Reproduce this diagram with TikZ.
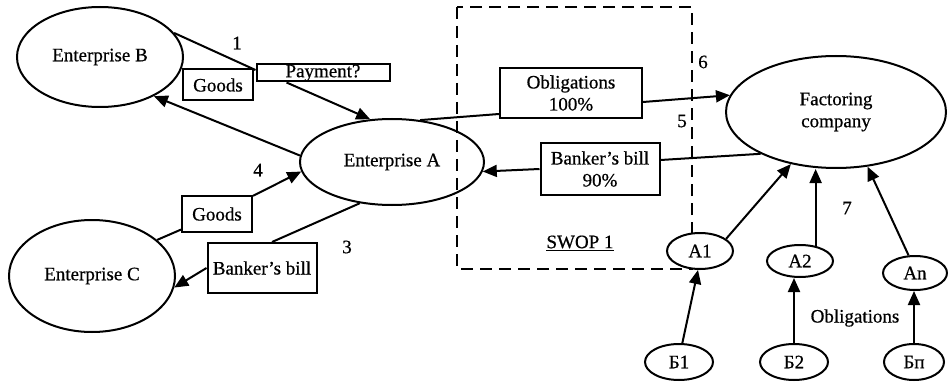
\documentclass[tikz,border=0pt]{standalone}
\usepackage{fontspec}
\setmainfont{Liberation Serif}[FakeBold=0.6]
\usetikzlibrary{shapes.geometric,arrows.meta,calc}
\begin{document}
\begin{tikzpicture}[x=1pt,y=-1pt,
  every node/.style={font=\fontsize{19}{22}\selectfont},
  ell/.style={draw,ellipse,line width=2pt,inner sep=0pt},
  box/.style={draw,rectangle,line width=2pt,fill=white,inner sep=0pt,align=center},
  conn/.style={line width=2pt},
  arr/.style={line width=2pt,-{Triangle[length=14pt,width=12pt]}},
  lbl/.style={inner sep=0pt},
  swop/.style={line width=2pt,dash pattern=on 12pt off 7pt}]
\useasboundingbox (0,0) rectangle (948,385);
% SWOP frame
\draw[swop] (457,7) rectangle (692,269);
% big ellipses
\node[ell,minimum width=166pt,minimum height=100pt] (B) at (100,57) {Enterprise B};
\node[ell,minimum width=184pt,minimum height=86pt] (A) at (392,162) {Enterprise A};
\node[ell,minimum width=166pt,minimum height=112pt] (C) at (92,276) {Enterprise C};
\node[ell,minimum width=220pt,minimum height=112pt,align=center] (F) at (836,112) {Factoring\\company};
% small ellipses
\node[ell,fill=white,minimum width=66pt,minimum height=36pt] (A1) at (700,251) {A1};
\node[ell,fill=white,minimum width=66pt,minimum height=32pt] (A2) at (800,261) {A2};
\node[ell,fill=white,minimum width=64pt,minimum height=34pt] (An) at (915,273) {An};
\node[ell,fill=white,minimum width=68pt,minimum height=36pt] (B1) at (679,362) {Б1};
\node[ell,fill=white,minimum width=68pt,minimum height=36pt] (B2) at (794,362) {Б2};
\node[ell,fill=white,minimum width=60pt,minimum height=36pt] (Bn) at (914,362) {Бп};
% boxes
\node[box,minimum width=133pt,minimum height=17pt] (pay) at (323,73) {Payment?};
\node[box,minimum width=70pt,minimum height=31pt] (g1) at (218,85) {Goods};
\node[box,minimum width=70pt,minimum height=36pt] (g2) at (217,214) {Goods};
\node[box,minimum width=109pt,minimum height=50pt] (bb1) at (262,268) {Banker's bill};
\node[box,minimum width=142pt,minimum height=50pt] (obl) at (571,93) {Obligations\\100\%};
\node[box,minimum width=119pt,minimum height=52pt] (bb2) at (600,169) {Banker's bill\\90\%};
% labels
\node[lbl] (n1) at (237,43) {1};
\node[lbl] (n4) at (258,170) {4};
\node[lbl] (n3) at (347,247) {3};
\node[lbl] (n6) at (703,62) {6};
\node[lbl] (n5) at (682,121) {5};
\node[lbl] (n7) at (847,208) {7};
\node[lbl] (swl) at (580,243) {\underline{SWOP 1}};
\node[lbl] (obll) at (855,318) {Obligations};
% connectors
\draw[conn] (B.18) -- ([yshift=3pt]pay.west);
\draw[arr] ($(pay.south west)!0.23!(pay.south east)$) -- (A.117);
\draw[arr] (A.176) -- (B.-36);
\draw[conn] (C.29) -- (g2);
\draw[arr] (g2) -- (A.186);
\draw[conn] (A.232) -- ([xshift=10pt]bb1.north);
\draw[arr] (bb1.west) -- (C.-8);
\draw[conn] (A.56) -- ([yshift=5pt]obl.south west);
\draw[arr] ([yshift=-9pt]obl.east) -- (F.171);
\draw[conn] (F.209) -- ([yshift=9pt]bb2.east);
\draw[arr] (bb2.west) -- (A.-6);
\draw[arr] (B1.80) -- (A1.-96);
\draw[arr] (B2.north) -- (B2.north |- A2.south);
\draw[arr] (Bn.north) -- (Bn.north |- An.south);
\draw[arr] (A1.25) -- (F);
\draw[arr] (A2.44) -- (A2.44 |- F.south);
\draw[arr] (An.110) -- (F.-60);
\end{tikzpicture}
\end{document}
